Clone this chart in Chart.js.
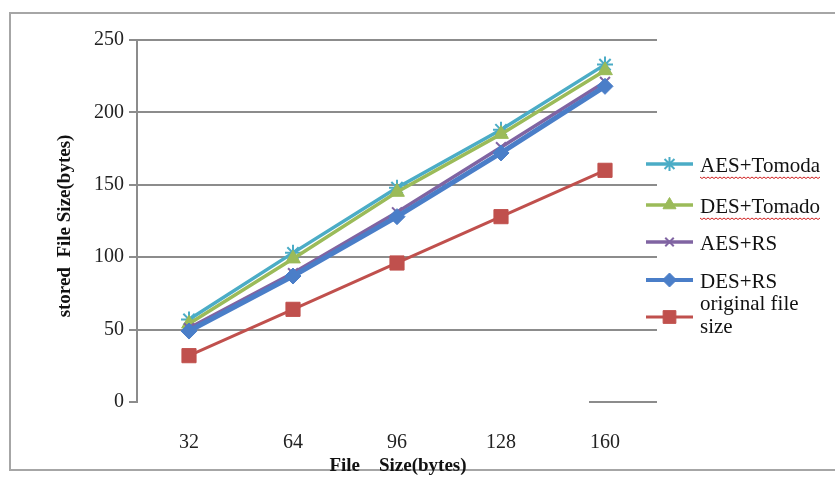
<!DOCTYPE html>
<html>
<head>
<meta charset="utf-8">
<script src="https://cdn.jsdelivr.net/npm/chart.js@4.4.0/dist/chart.umd.min.js"></script>
<style>
  html, body { margin: 0; padding: 0; background: #fff; }
  #wrap { width: 835px; height: 477px; }
</style>
</head>
<body>
<div id="wrap"><canvas id="c" width="835" height="477"></canvas></div>
<script>
// data
const fileSizes = ['32', '64', '96', '128', '160'];
const aesTomoda = [57, 103, 148, 188, 233];
const desTomado = [54, 99, 145, 185, 229];
const aesRs = [51, 89, 131, 176, 221];
const desRs = [49, 87, 128, 172, 218];
const originalSize = [32, 64, 96, 128, 160];
const seriesNames = ['AES+Tomoda', 'DES+Tomado', 'AES+RS', 'DES+RS', ['original file', 'size']];

const serif = "'Liberation Serif', 'Times New Roman', serif";
const gridGray = '#8c8c8c';

function series(label, data, color, style, radius, width, order) {
  return {
    label: label,
    data: data,
    borderColor: color,
    backgroundColor: color,
    borderWidth: width,
    pointStyle: style,
    pointRadius: radius,
    pointBorderColor: color,
    pointBackgroundColor: color,
    pointBorderWidth: style === 'star' || style === 'crossRot' ? 2 : 1,
    tension: 0,
    order: order
  };
}

const datasets = [
  series(seriesNames[0], aesTomoda, '#4bacc6', 'star', 8, 3.5, 5),
  series(seriesNames[1], desTomado, '#9bbb59', 'triangle', 8.5, 3.5, 4),
  series(seriesNames[2], aesRs, '#8064a2', 'crossRot', 7, 3.5, 3),
  series(seriesNames[3], desRs, '#4a7ec8', 'rectRot', 8, 5, 2),
  series(seriesNames[4], originalSize, '#c0504d', 'rect', 10, 3, 1)
];

// frame, titles, legend and the odd little zero line
const decor = {
  id: 'decor',
  beforeDraw(chart) {
    const ctx = chart.ctx;
    ctx.save();
    ctx.fillStyle = '#fff';
    ctx.fillRect(0, 0, chart.width, chart.height);
    ctx.strokeStyle = '#a6a6a6';
    ctx.lineWidth = 2;
    ctx.strokeRect(10, 13, 900, 457);
    ctx.restore();
  },
  afterDraw(chart) {
    const ctx = chart.ctx;
    const x = chart.scales.x, y = chart.scales.y;
    ctx.save();

    // short zero line at the right end
    ctx.strokeStyle = gridGray;
    ctx.lineWidth = 2;
    ctx.beginPath();
    ctx.moveTo(x.getPixelForValue(4) - 16, y.getPixelForValue(0));
    ctx.lineTo(chart.chartArea.right, y.getPixelForValue(0));
    ctx.stroke();

    // axis titles
    ctx.fillStyle = '#111';
    ctx.font = 'bold 19px ' + serif;
    ctx.textAlign = 'center';
    ctx.textBaseline = 'middle';
    ctx.fillText('File    Size(bytes)', 398, 466);
    ctx.translate(65, 226);
    ctx.rotate(-Math.PI / 2);
    ctx.fillText('stored  File Size(bytes)', 0, 0);
    ctx.restore();

    // legend
    const rows = [164, 205, 242, 280, 317];
    ctx.save();
    ctx.font = '21px ' + serif;
    ctx.textAlign = 'left';
    ctx.textBaseline = 'middle';
    chart.data.datasets.forEach((ds, i) => {
      const ly = rows[i];
      ctx.strokeStyle = ds.borderColor;
      ctx.fillStyle = ds.borderColor;
      ctx.lineWidth = Math.min(ds.borderWidth, 4);
      ctx.beginPath();
      ctx.moveTo(646, ly);
      ctx.lineTo(693, ly);
      ctx.stroke();
      ctx.lineWidth = ds.pointBorderWidth;
      Chart.helpers.drawPoint(ctx, {
        pointStyle: ds.pointStyle,
        radius: ds.pointRadius - 1,
        rotation: 0,
        borderWidth: ds.pointBorderWidth
      }, 669.5, ly);

      ctx.fillStyle = '#111';
      if (Array.isArray(ds.label)) {
        ctx.fillText(ds.label[0], 700, ly - 13);
        ctx.fillText(ds.label[1], 700, ly + 10);
      } else {
        ctx.fillText(ds.label, 700, ly + 2);
        if (ds.label.indexOf('Tom') >= 0) {
          // spell-check squiggle
          const w = ctx.measureText(ds.label).width;
          ctx.strokeStyle = '#d02020';
          ctx.lineWidth = 1;
          ctx.beginPath();
          for (let k = 0; k <= w; k += 2) {
            const yy = ly + 13 + ((k / 2) % 2 === 0 ? 0 : 1.5);
            if (k === 0) ctx.moveTo(700 + k, yy); else ctx.lineTo(700 + k, yy);
          }
          ctx.stroke();
        }
      }
    });
    ctx.restore();
  }
};

new Chart(document.getElementById('c'), {
  type: 'line',
  data: { labels: fileSizes, datasets: datasets },
  options: {
    responsive: false,
    animation: false,
    layout: { padding: { left: 10, top: 40, right: 178, bottom: 0 } },
    plugins: {
      legend: { display: false },
      tooltip: { enabled: false }
    },
    scales: {
      x: {
        offset: true,
        grid: { display: false, drawTicks: false },
        border: { display: false },
        ticks: {
          padding: 29,
          color: '#222',
          font: { family: serif, size: 20 }
        },
        afterFit(scale) { scale.height = 75; }
      },
      y: {
        min: 0,
        max: 250,
        ticks: {
          stepSize: 50,
          padding: 5,
          color: '#222',
          font: { family: serif, size: 20 }
        },
        grid: {
          color: (c) => (c.tick && c.tick.value === 0 ? 'rgba(0,0,0,0)' : gridGray),
          tickColor: gridGray,
          lineWidth: 2,
          tickLength: 8
        },
        border: { color: gridGray, width: 2 },
        afterFit(scale) { scale.width = 127; }
      }
    }
  },
  plugins: [decor]
});
</script>
</body>
</html>
